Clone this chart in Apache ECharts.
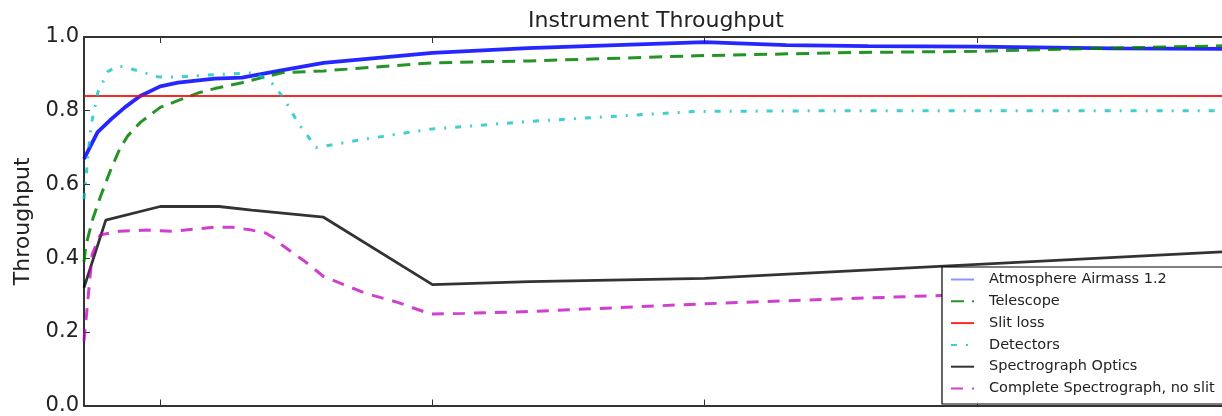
<!DOCTYPE html>
<html><head><meta charset="utf-8">
<script src="https://cdn.jsdelivr.net/npm/echarts@6/dist/echarts.min.js"></script>
<style>html,body{margin:0;padding:0;background:#fff}#c{width:1222px;height:416px}</style>
</head><body><div id="c"></div>
<script>
const chartTitle = 'Instrument Throughput';
const yAxisTitle = 'Throughput';
const seriesNames = ['Atmosphere Airmass 1.2', 'Telescope', 'Slit loss', 'Detectors', 'Spectrograph Optics', 'Complete Spectrograph, no slit'];
const xTickValues = [4000, 5000, 6000, 7000];
const yTickValues = [0.0, 0.2, 0.4, 0.6, 0.8, 1.0];

const atmWave = [3720, 3770, 3820, 3870, 3925, 4000, 4065, 4200, 4300, 4450, 4600, 5000, 5350, 6000, 6300, 6600, 7000, 7500, 7900];
const atmThru = [0.669, 0.742, 0.777, 0.809, 0.839, 0.866, 0.876, 0.887, 0.890, 0.910, 0.930, 0.957, 0.970, 0.986, 0.978, 0.975, 0.974, 0.969, 0.968];

const telWave = [3720, 3727, 3753, 3782, 3815, 3851, 3880, 3928, 4000, 4074, 4143, 4200, 4300, 4446, 4600, 5000, 5357, 5966, 6550, 7000, 7250, 7500, 7900];
const telThru = [0.390, 0.435, 0.508, 0.570, 0.634, 0.696, 0.731, 0.769, 0.809, 0.830, 0.849, 0.860, 0.876, 0.903, 0.908, 0.930, 0.935, 0.949, 0.958, 0.961, 0.966, 0.970, 0.976];

const slitWave = [3720, 7900];
const slitThru = [0.84, 0.84];

const detWave = [3720, 3735, 3746, 3771, 3808, 3844, 3891, 3942, 3990, 4063, 4200, 4350, 4409, 4453, 4508, 4573, 4752, 4993, 5357, 5966, 6500, 7000, 7900];
const detThru = [0.560, 0.680, 0.760, 0.850, 0.906, 0.922, 0.914, 0.903, 0.892, 0.891, 0.898, 0.903, 0.876, 0.835, 0.765, 0.700, 0.723, 0.750, 0.771, 0.798, 0.800, 0.800, 0.800];

const optWave = [3720, 3800, 4000, 4216, 4336, 4600, 5000, 5357, 6000, 7900];
const optThru = [0.320, 0.503, 0.540, 0.540, 0.530, 0.511, 0.328, 0.336, 0.345, 0.417];

const specWave = [3720, 3750, 3780, 3850, 3950, 4045, 4200, 4263, 4336, 4387, 4420, 4446, 4533, 4600, 4752, 4872, 4993, 5117, 5357, 5602, 5966, 6331, 6842, 7900];
const specThru = [0.175, 0.410, 0.463, 0.473, 0.476, 0.473, 0.484, 0.484, 0.476, 0.468, 0.454, 0.436, 0.390, 0.350, 0.305, 0.280, 0.248, 0.250, 0.255, 0.263, 0.275, 0.285, 0.298, 0.320];

const zip = (xs, ys) => xs.map((x, i) => [x, ys[i]]);
const FONT = 'DejaVu Sans';

const styles = [
  {color: '#0000ff', width: 3.8, type: 'solid', opacity: 0.85},
  {color: '#008000', width: 3, type: [13, 8], opacity: 0.85},
  {color: '#ff0000', width: 2, type: 'solid', opacity: 0.85},
  {color: '#00bfbf', width: 3, type: [6, 9, 2, 9], opacity: 0.75},
  {color: '#000000', width: 2.8, type: 'solid', opacity: 0.8},
  {color: '#bf00bf', width: 3, type: [12, 9], opacity: 0.75}
];
const datasets = [zip(atmWave, atmThru), zip(telWave, telThru), zip(slitWave, slitThru), zip(detWave, detThru), zip(optWave, optThru), zip(specWave, specThru)];

const chart = echarts.init(document.getElementById('c'), null, {renderer: 'canvas'});
chart.setOption({
  animation: false,
  backgroundColor: '#ffffff',
  title: {
    text: chartTitle, left: 523, top: 5,
    textStyle: {fontFamily: FONT, fontSize: 22, fontWeight: 'normal', color: '#222'}
  },
  grid: {left: 84, right: -8, top: 37, bottom: 7, containLabel: false},
  legend: {
    orient: 'vertical', left: 942, top: 267,
    padding: [5, 12, 8, 8], itemGap: 6.8, itemWidth: 23, itemHeight: 14,
    backgroundColor: '#ffffff', borderColor: '#000', borderWidth: 1.2, borderRadius: 0,
    itemStyle: {opacity: 0},
    textStyle: {fontFamily: FONT, fontSize: 14.5, color: '#222', padding: [0, 0, 0, 10]},
    data: seriesNames.map((n, i) => i === 0 ? {name: n, lineStyle: {color: '#7f7fff'}} : {name: n})
  },
  xAxis: [
    {type: 'value', position: 'bottom', min: 3720, max: 7900,
     axisLine: {show: true, lineStyle: {color: '#333', width: 2}},
     axisTick: {show: true, inside: true, length: 6, customValues: xTickValues, lineStyle: {color: '#333', width: 1}},
     axisLabel: {show: false}, splitLine: {show: false}},
    {type: 'value', position: 'top', min: 3720, max: 7900,
     axisLine: {show: true, lineStyle: {color: '#333', width: 2}},
     axisTick: {show: true, inside: true, length: 6, customValues: xTickValues, lineStyle: {color: '#333', width: 1}},
     axisLabel: {show: false}, splitLine: {show: false}}
  ],
  yAxis: {
    type: 'value', min: 0, max: 1, interval: 0.2,
    name: yAxisTitle, nameLocation: 'middle', nameRotate: 90, nameGap: 50,
    nameTextStyle: {fontFamily: FONT, fontSize: 22, color: '#222'},
    axisLine: {show: true, lineStyle: {color: '#333', width: 2}},
    axisTick: {show: true, inside: true, length: 6, lineStyle: {color: '#333', width: 1}},
    axisLabel: {fontFamily: FONT, fontSize: 21, color: '#222', margin: 5, formatter: v => v.toFixed(1)},
    splitLine: {show: false}
  },
  series: seriesNames.map((n, i) => ({
    name: n, type: 'line', xAxisIndex: 0, data: datasets[i], showSymbol: false, symbol: 'none',
    lineStyle: styles[i], itemStyle: {color: styles[i].color}, clip: true
  }))
});
</script></body></html>
